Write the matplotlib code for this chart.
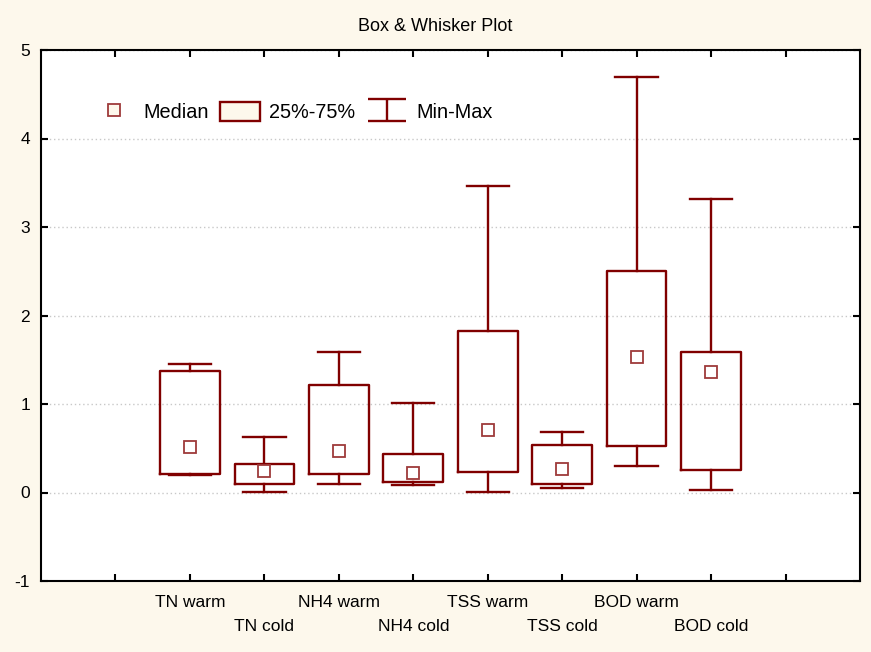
import matplotlib
matplotlib.use('Agg')
import matplotlib.pyplot as plt
from matplotlib.lines import Line2D
from matplotlib.patches import Patch
from matplotlib.path import Path
import numpy as np

plt.rcParams['font.family'] = ['Liberation Sans', 'DejaVu Sans']
plt.rcParams['axes.unicode_minus'] = False

# values
cats = ['TN warm', 'TN cold', 'NH4 warm', 'NH4 cold',
        'TSS warm', 'TSS cold', 'BOD warm', 'BOD cold']
medians = [0.51, 0.24, 0.47, 0.22, 0.71, 0.27, 1.53, 1.36]
q1 = [0.21, 0.10, 0.21, 0.12, 0.23, 0.10, 0.52, 0.25]
q3 = [1.37, 0.32, 1.21, 0.43, 1.83, 0.54, 2.50, 1.59]
mins = [0.20, 0.01, 0.10, 0.08, 0.01, 0.05, 0.30, 0.03]
maxs = [1.45, 0.63, 1.59, 1.01, 3.46, 0.68, 4.69, 3.32]

bg = '#FDF8EC'
red = '#800000'
red_light = '#9E3A3A'

pos = np.arange(len(cats)) + 2

fig = plt.figure(figsize=(8.71, 6.52), dpi=100, facecolor=bg)
ax = fig.add_axes([41 / 871, 1 - 581 / 652, (860 - 41) / 871, (581 - 50) / 652])
ax.set_facecolor('white')

stats = [dict(med=m, q1=a, q3=b, whislo=lo, whishi=hi, label=c)
         for c, m, a, b, lo, hi in zip(cats, medians, q1, q3, mins, maxs)]
line_kw = dict(color=red, linewidth=1.7)
ax.bxp(stats, positions=pos, widths=0.8, capwidths=0.57, showfliers=False,
       manage_ticks=False, boxprops=line_kw, whiskerprops=line_kw,
       capprops=line_kw, medianprops=dict(linewidth=0))
ax.plot(pos, medians, 's', ms=8, mfc='white', mec=red_light, mew=1.3,
        ls='none', zorder=4)

ax.set_xlim(0, 11)
ax.set_ylim(-1, 5)
ax.set_xticks(range(1, 11))
xlabels = ['']
for i, c in enumerate(cats):
    xlabels.append(c if i % 2 == 0 else '\n' + c)
xlabels.append('')
ax.set_xticklabels(xlabels, linespacing=1.75)
ax.set_yticks(range(-1, 6))

ax.yaxis.grid(True, linestyle=(0, (1, 2)), color='#c8c8c8', linewidth=1)
ax.set_axisbelow(True)
ax.tick_params(direction='in', top=True, right=True, length=5, width=1.5,
               labelsize=12.5)
ax.tick_params(axis='y', pad=8)
ax.tick_params(axis='x', pad=10)
for s in ax.spines.values():
    s.set_linewidth(1.5)
    s.set_color('black')

fig.text(0.5, 1 - 31 / 652, 'Box & Whisker Plot', ha='center', va='baseline',
         fontsize=13)

# legend: median square, box patch, min-max "I" symbol
ibar = Path([(-1, 0.58), (1, 0.58), (0, 0.58), (0, -0.58), (-1, -0.58), (1, -0.58)],
            [Path.MOVETO, Path.LINETO, Path.MOVETO, Path.LINETO, Path.MOVETO, Path.LINETO])
handles = [
    Line2D([], [], marker='s', ls='none', ms=8, mfc=bg, mec=red_light, mew=1.3),
    Patch(facecolor=bg, edgecolor=red, linewidth=1.7),
    Line2D([], [], marker=ibar, ls='none', ms=27.5, mfc='none', mec=red, mew=1.7),
]
fig.legend(handles, ['Median', '25%-75%', 'Min-Max'], ncol=3, frameon=False,
           loc='center left', bbox_to_anchor=(94 / 871, 1 - 112 / 652),
           fontsize=14.3, handlelength=2.0, handleheight=1.15, handletextpad=0.48,
           columnspacing=0.57, borderpad=0, borderaxespad=0)

fig.savefig('out.png', dpi=100, facecolor=bg)
